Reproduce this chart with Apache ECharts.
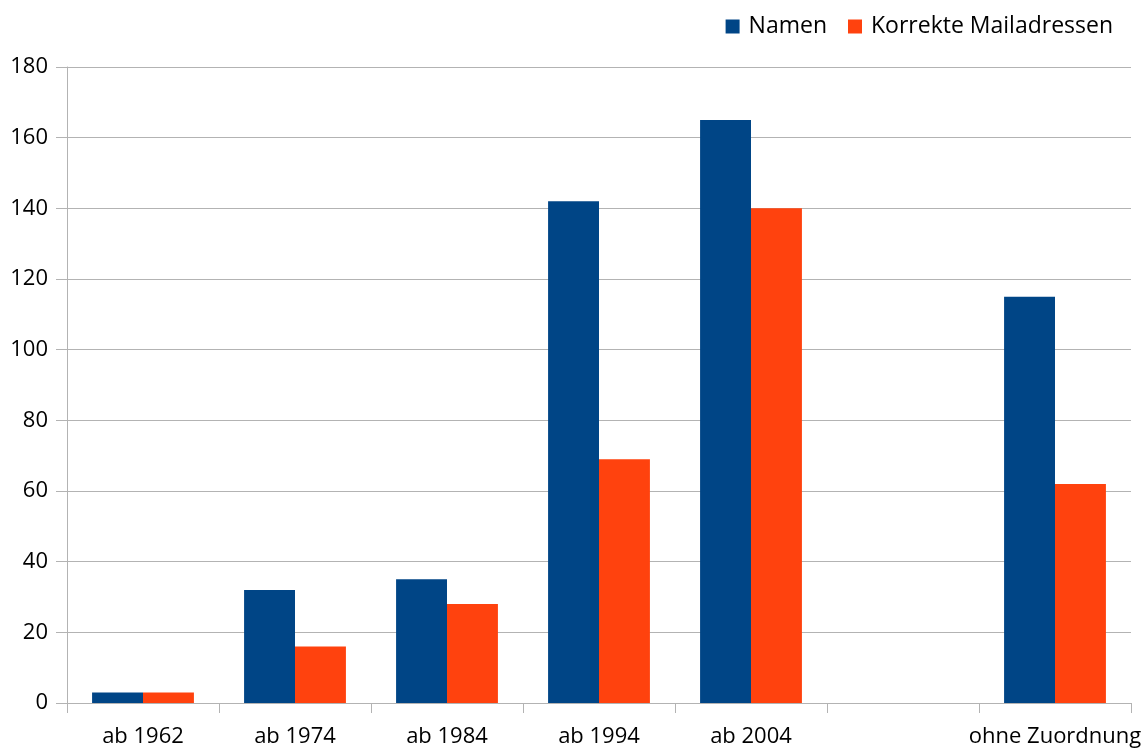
<!DOCTYPE html>
<html>
<head>
<meta charset="utf-8">
<script src="https://cdn.jsdelivr.net/npm/echarts@6/dist/echarts.min.js"></script>
<style>html,body{margin:0;padding:0;background:#fff}#c{width:1147px;height:749px}</style>
</head>
<body>
<div id="c"></div>
<script>
const categories = ['ab 1962', 'ab 1974', 'ab 1984', 'ab 1994', 'ab 2004', '', 'ohne Zuordnung'];
const namen = [3, 32, 35, 142, 165, null, 115];
const mailadressen = [3, 16, 28, 69, 140, null, 62];
const yTicks = { min: 0, max: 180, interval: 20 };

const font = '"Open Sans", sans-serif';
const chart = echarts.init(document.getElementById('c'), null, { renderer: 'canvas' });
chart.setOption({
  animation: false,
  color: ['#004586', '#ff420e'],
  legend: {
    top: 10, right: 29,
    itemWidth: 14, itemHeight: 14, itemGap: 21,
    icon: 'rect',
    textStyle: { fontFamily: font, fontSize: 23, color: '#000', padding: [0, 0, 0, 4] },
    data: ['Namen', 'Korrekte Mailadressen']
  },
  grid: { left: 67, right: 16, top: 67, bottom: 46, containLabel: false },
  xAxis: {
    type: 'category',
    data: categories,
    axisLine: { lineStyle: { color: '#b3b3b3', width: 1 } },
    axisTick: { show: true, length: 10, lineStyle: { color: '#b3b3b3' }, alignWithLabel: false },
    axisLabel: { fontFamily: font, fontSize: 22, color: '#000', margin: 23, interval: 0 },
    splitLine: { show: false }
  },
  yAxis: {
    type: 'value',
    min: yTicks.min, max: yTicks.max, interval: yTicks.interval,
    axisLine: { show: true, lineStyle: { color: '#b3b3b3', width: 1 } },
    axisTick: { show: true, length: 11, lineStyle: { color: '#b3b3b3' } },
    axisLabel: { fontFamily: font, fontSize: 22, color: '#000', margin: 19 },
    splitLine: { show: true, lineStyle: { color: '#b3b3b3', width: 1 } }
  },
  series: [
    { name: 'Namen', type: 'bar', data: namen, barGap: '0%', barCategoryGap: '33%' },
    { name: 'Korrekte Mailadressen', type: 'bar', data: mailadressen, barGap: '0%', barCategoryGap: '33%' }
  ]
});
</script>
</body>
</html>
